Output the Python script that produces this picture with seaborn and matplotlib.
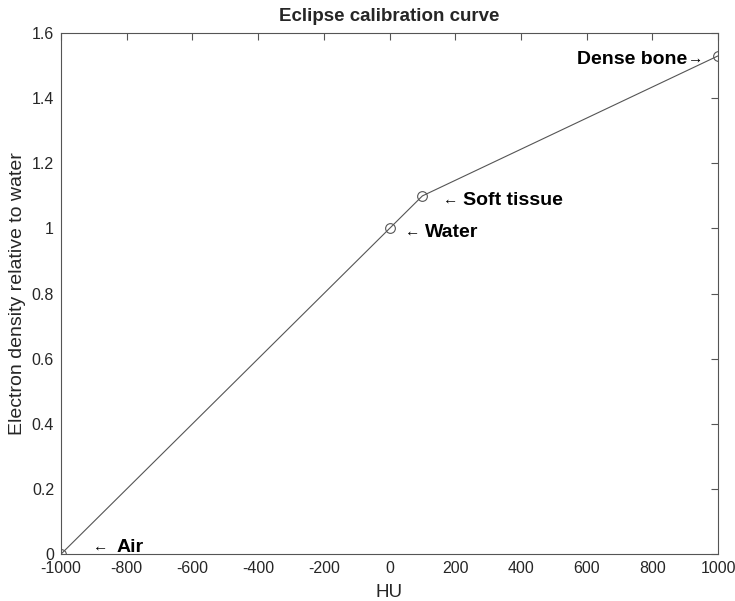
import matplotlib
matplotlib.use("Agg")
import matplotlib.pyplot as plt
import seaborn as sns
import pandas as pd

# Calibration points: CT number (HU) vs electron density relative to water
hu = [-1000, 0, 100, 1000]
density = [0.0, 1.0, 1.1, 1.53]

# Tissue annotations: name, arrow glyph, and where each piece sits (HU, density)
names = ["Air", "Water", "Soft tissue", "Dense bone"]
arrows = ["\u2190", "\u2190", "\u2190", "\u2192"]
arrow_x = [-903, 47, 163, 909]
name_x = [-830, 108, 224, 906]
name_y = [0.028, 0.995, 1.093, 1.526]
name_ha = ["left", "left", "left", "right"]

sns.set_style("white")
plt.rcParams["font.family"] = ["Liberation Sans", "DejaVu Sans"]
plt.rcParams["axes.unicode_minus"] = False

df = pd.DataFrame({"HU": hu, "density": density})

fig = plt.figure(figsize=(7.35, 6.01), dpi=100)
ax = fig.add_axes([0.083, 0.078, 0.894, 0.867])

sns.lineplot(data=df, x="HU", y="density", ax=ax, color="#555555", linewidth=0.8,
             marker="o", markersize=7, markerfacecolor="none",
             markeredgecolor="#555555", markeredgewidth=0.8)

for name, arr, ax_x, nx, ny, ha in zip(names, arrows, arrow_x, name_x, name_y, name_ha):
    ax.text(ax_x, ny, arr, ha="left", va="center_baseline", fontsize=11, color="black")
    ax.text(nx, ny, name, ha=ha, va="center_baseline", fontsize=14,
            fontweight="bold", color="black")

ax.set_xlim(-1000, 1000)
ax.set_ylim(0, 1.6)
ax.set_xticks(range(-1000, 1001, 200))
ax.set_yticks([0, 0.2, 0.4, 0.6, 0.8, 1.0, 1.2, 1.4, 1.6])
ax.set_yticklabels(["0", "0.2", "0.4", "0.6", "0.8", "1", "1.2", "1.4", "1.6"])
ax.tick_params(direction="in", length=5, width=0.8, color="#555555",
               top=True, right=True, labelsize=11.5, pad=5)
for s in ax.spines.values():
    s.set_visible(True)
    s.set_color("#555555")
    s.set_linewidth(0.8)

ax.set_xlabel("HU", fontsize=13.5, labelpad=6)
ax.set_ylabel("Electron density relative to water", fontsize=14, labelpad=4)
ax.set_title("Eclipse calibration curve", fontsize=13.5, fontweight="bold", pad=9)

fig.savefig("out.png", dpi=100, facecolor="white")
